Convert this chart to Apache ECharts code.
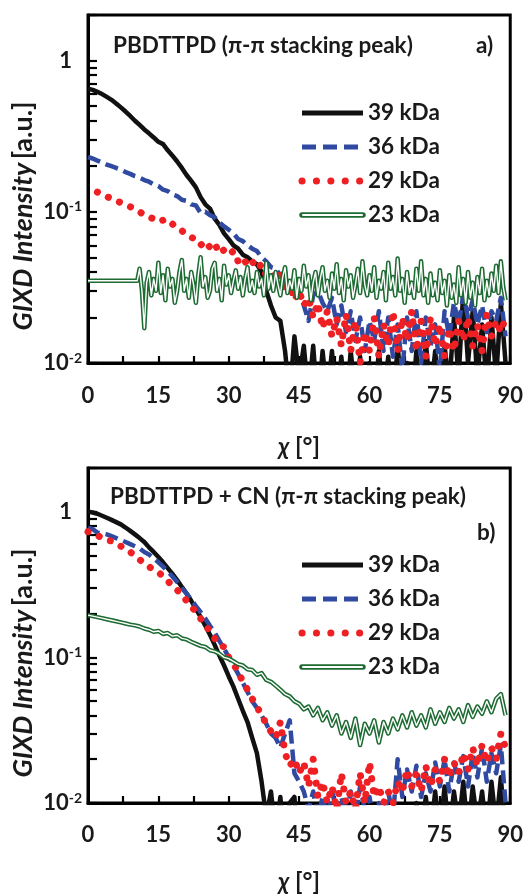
<!DOCTYPE html>
<html>
<head>
<meta charset="utf-8">
<script src="https://cdn.jsdelivr.net/npm/echarts@6/dist/echarts.min.js"></script>
<style>
html,body{margin:0;padding:0;background:#fff;}
#c{width:526px;height:895px;}
</style>
</head>
<body>
<div id="c"></div>
<script>
// chi angle [deg]
const chi = [0,1,2,3,4,5,6,7,8,9,10,11,12,13,14,15,16,17,18,19,20,21,22,23,24,25,26,27,28,29,30,31,32,33,34,35,36,37,38,39,40,41,42,43,44,45,46,47,48,49,50,51,52,53,54,55,56,57,58,59,60,61,62,63,64,65,66,67,68,69,70,71,72,73,74,75,76,77,78,79,80,81,82,83,84,85,86,87,88,89];
const chiHalf = [0,0.5,1,1.5,2,2.5,3,3.5,4,4.5,5,5.5,6,6.5,7,7.5,8,8.5,9,9.5,10,10.5,11,11.5,12,12.5,13,13.5,14,14.5,15,15.5,16,16.5,17,17.5,18,18.5,19,19.5,20,20.5,21,21.5,22,22.5,23,23.5,24,24.5,25,25.5,26,26.5,27,27.5,28,28.5,29,29.5,30,30.5,31,31.5,32,32.5,33,33.5,34,34.5,35,35.5,36,36.5,37,37.5,38,38.5,39,39.5,40,40.5,41,41.5,42,42.5,43,43.5,44,44.5,45,45.5,46,46.5,47,47.5,48,48.5,49,49.5,50,50.5,51,51.5,52,52.5,53,53.5,54,54.5,55,55.5,56,56.5,57,57.5,58,58.5,59,59.5,60,60.5,61,61.5,62,62.5,63,63.5,64,64.5,65,65.5,66,66.5,67,67.5,68,68.5,69,69.5,70,70.5,71,71.5,72,72.5,73,73.5,74,74.5,75,75.5,76,76.5,77,77.5,78,78.5,79,79.5,80,80.5,81,81.5,82,82.5,83,83.5,84,84.5,85,85.5,86,86.5,87,87.5,88,88.5,89];

// Panel a) PBDTTPD
const a39 = [0.65,0.64,0.62,0.60,0.575,0.55,0.52,0.49,0.46,0.43,0.40,0.375,0.35,0.33,0.31,0.29,0.28,0.255,0.235,0.215,0.195,0.175,0.16,0.145,0.125,0.112,0.105,0.09,0.082,0.072,0.066,0.06,0.057,0.052,0.05,0.047,0.045,0.04,0.03,0.024,0.02,0.019,0.012,0.006,0.015,0.008,0.013,0.006,0.013,0.005,0.012,0.006,0.012,0.005,0.011,0.005,0.012,0.006,0.011,0.005,0.01,0.005,0.012,0.006,0.011,0.005,0.013,0.006,0.01,0.005,0.012,0.006,0.014,0.006,0.012,0.005,0.013,0.007,0.02,0.008,0.03,0.01,0.022,0.008,0.018,0.007,0.02,0.008,0.025,0.01];
const a36 = [0.23,0.225,0.218,0.212,0.205,0.20,0.195,0.19,0.183,0.178,0.172,0.168,0.162,0.158,0.152,0.148,0.14,0.137,0.13,0.127,0.12,0.118,0.112,0.11,0.098,0.1,0.095,0.092,0.085,0.08,0.076,0.072,0.066,0.064,0.06,0.057,0.055,0.05,0.047,0.043,0.042,0.038,0.04,0.033,0.036,0.03,0.024,0.019,0.028,0.03,0.025,0.022,0.027,0.018,0.024,0.016,0.022,0.014,0.02,0.012,0.019,0.014,0.022,0.012,0.02,0.011,0.018,0.009,0.02,0.012,0.022,0.01,0.02,0.013,0.018,0.009,0.022,0.015,0.025,0.018,0.028,0.02,0.026,0.018,0.024,0.016,0.022,0.019,0.027,0.015];
const a29 = [null,null,0.135,0.13,0.126,0.122,0.118,0.115,0.112,0.108,0.104,0.1,0.095,0.092,0.09,0.086,0.088,0.082,0.083,0.078,0.075,0.07,0.068,0.065,0.06,0.064,0.058,0.062,0.053,0.056,0.052,0.055,0.047,0.05,0.044,0.047,0.042,0.045,0.038,0.04,0.035,0.038,0.03,0.034,0.026,0.03,0.024,0.027,0.02,0.025,0.017,0.022,0.015,0.02,0.013,0.021,0.012,0.019,0.01,0.016,0.012,0.02,0.011,0.018,0.013,0.022,0.012,0.02,0.014,0.022,0.012,0.019,0.011,0.02,0.013,0.018,0.011,0.017,0.012,0.019,0.014,0.02,0.013,0.018,0.012,0.021,0.015,0.019,0.016,0.02];
// 23 kDa sampled every 0.5 deg (uses chiHalf)
const a23 = [0.035,0.035,0.035,0.035,0.035,0.035,0.035,0.035,0.035,0.035,0.035,0.035,0.035,0.035,0.035,0.035,0.035,0.035,0.035,0.035,0.035,0.035,
  0.042,0.03,0.017,0.034,0.04,0.028,0.036,0.03,0.046,0.029,
  0.038,0.026,0.042,0.032,0.036,0.025,0.03,0.04,0.048,0.03,
  0.036,0.027,0.04,0.033,0.025,0.038,0.05,0.032,0.037,0.027,
  0.03,0.042,0.046,0.03,0.036,0.026,0.044,0.033,0.038,0.029,
  0.035,0.041,0.031,0.037,0.028,0.036,0.043,0.03,0.035,0.029,
  0.04,0.032,0.036,0.028,0.046,0.031,0.038,0.03,0.04,0.033,
  0.028,0.037,0.043,0.029,0.035,0.031,0.041,0.027,0.036,0.03,
  0.044,0.032,0.038,0.026,0.034,0.04,0.028,0.036,0.043,0.03,
  0.035,0.027,0.039,0.031,0.045,0.029,0.036,0.026,0.041,0.032,
  0.038,0.027,0.033,0.042,0.029,0.047,0.033,0.028,0.038,0.03,
  0.043,0.027,0.035,0.031,0.04,0.026,0.046,0.031,0.037,0.028,
  0.049,0.03,0.036,0.025,0.04,0.029,0.034,0.027,0.042,0.03,
  0.047,0.028,0.036,0.025,0.039,0.028,0.034,0.026,0.041,0.029,
  0.035,0.024,0.038,0.027,0.033,0.025,0.043,0.028,0.036,0.025,
  0.04,0.027,0.034,0.024,0.037,0.029,0.042,0.026,0.035,0.028,
  0.039,0.03,0.044,0.029,0.047,0.032,0.026];

// Panel b) PBDTTPD + CN
const b39 = [1.0,0.99,0.97,0.94,0.91,0.88,0.85,0.82,0.78,0.74,0.70,0.66,0.62,0.57,0.53,0.49,0.45,0.41,0.375,0.34,0.305,0.275,0.245,0.215,0.19,0.165,0.143,0.122,0.103,0.088,0.074,0.063,0.052,0.043,0.036,0.028,0.022,0.014,0.008,0.012,0.006,0.011,0.005,0.01,0.011,0.004,0.008,0.005,0.009,0.004,0.008,0.005,0.009,0.004,0.008,0.005,0.009,0.004,0.008,0.005,0.009,0.004,0.008,0.005,0.009,0.004,0.008,0.005,0.009,0.005,0.01,0.006,0.011,0.006,0.012,0.006,0.013,0.006,0.012,0.007,0.014,0.006,0.013,0.007,0.012,0.006,0.014,0.007,0.015,0.006];
const b36 = [0.78,0.76,0.72,0.71,0.70,0.68,0.66,0.64,0.62,0.6,0.58,0.56,0.53,0.51,0.48,0.45,0.42,0.39,0.36,0.33,0.3,0.275,0.25,0.225,0.205,0.185,0.165,0.148,0.13,0.115,0.1,0.088,0.077,0.067,0.058,0.05,0.045,0.04,0.035,0.03,0.028,0.024,0.03,0.037,0.016,0.014,0.012,0.009,0.012,0.008,0.011,0.008,0.012,0.009,0.011,0.008,0.012,0.008,0.013,0.009,0.011,0.007,0.01,0.007,0.012,0.008,0.02,0.011,0.017,0.012,0.018,0.011,0.016,0.012,0.019,0.013,0.02,0.012,0.019,0.014,0.021,0.013,0.022,0.015,0.024,0.014,0.022,0.016,0.025,0.01];
const b29 = [0.73,0.71,0.69,0.66,0.64,0.63,0.61,0.58,0.56,0.53,0.5,0.47,0.44,0.42,0.4,0.385,0.36,0.335,0.31,0.29,0.27,0.245,0.225,0.205,0.185,0.168,0.15,0.135,0.122,0.118,0.1,0.09,0.08,0.068,0.06,0.052,0.046,0.04,0.035,0.031,0.028,0.036,0.022,0.018,0.02,0.016,0.019,0.013,0.02,0.011,0.014,0.01,0.013,0.009,0.016,0.01,0.012,0.009,0.016,0.01,0.019,0.011,0.013,0.01,0.012,0.01,0.014,0.012,0.017,0.013,0.016,0.012,0.018,0.013,0.017,0.014,0.02,0.015,0.019,0.016,0.022,0.017,0.024,0.018,0.025,0.019,0.024,0.02,0.03,0.024];
const b23 = [0.195,0.192,0.189,0.186,0.183,0.18,0.177,0.174,0.171,0.168,0.166,0.163,0.158,0.155,0.15,0.152,0.145,0.147,0.14,0.142,0.135,0.133,0.128,0.124,0.12,0.118,0.112,0.11,0.106,0.1,0.098,0.094,0.09,0.088,0.083,0.082,0.076,0.078,0.07,0.068,0.064,0.06,0.056,0.054,0.05,0.048,0.044,0.046,0.04,0.045,0.037,0.042,0.034,0.04,0.03,0.036,0.028,0.038,0.025,0.035,0.03,0.037,0.026,0.036,0.03,0.038,0.032,0.04,0.033,0.042,0.034,0.04,0.033,0.044,0.035,0.042,0.036,0.045,0.038,0.044,0.036,0.047,0.039,0.046,0.041,0.05,0.042,0.052,0.056,0.04];

const seriesNames = ['39 kDa','36 kDa','29 kDa','23 kDa'];
const xTickLabels = [0,15,30,45,60,75,90];
const yLabelValues = [0.01,0.1,1];
const yMinorTicks = [0.01,0.02,0.03,0.04,0.05,0.06,0.07,0.08,0.09,0.1,0.2,0.3,0.4,0.5,0.6,0.7,0.8,0.9,1,2];

const FONT = 'Lato';
const TXT = '#1a1a1a';
const C39 = '#111111', C36 = '#2f4aa0', C29 = '#ee2024', C23 = '#1d6b32';

function pairs(xs, arr){ return xs.map((x,i)=>[x, arr[i]]); }

function yLabel(v){
  if (Math.abs(v-1)<1e-9) return '{one|1}';
  if (Math.abs(v-0.1)<1e-9) return '{n|10}{s|-1}';
  if (Math.abs(v-0.01)<1e-9) return '{n|10}{s|-2}';
  return '';
}

function makeX(gi, margin, gap){
  return {
    type:'value', gridIndex:gi, min:0, max:90, interval:7.5,
    axisLine:{show:true, onZero:false, lineStyle:{color:'#000', width:3}},
    axisTick:{show:true, inside:true, length:7, lineStyle:{color:'#000', width:2.2, type:[30,0.01], dashOffset:0, cap:'butt'}},
    axisLabel:{margin:margin, color:TXT, fontFamily:FONT, fontWeight:'bold', fontSize:22,
      formatter:function(v){ return xTickLabels.indexOf(v)>=0 ? String(v) : ''; }},
    splitLine:{show:false},
    name:'{i|χ} [°]', nameLocation:'middle', nameGap:gap,
    nameTextStyle:{color:TXT, fontFamily:FONT, fontWeight:'bold', fontSize:24,
      rich:{i:{fontStyle:'italic', fontFamily:FONT, fontWeight:'bold', fontSize:24, color:TXT}}}
  };
}
function makeY(gi){
  return {
    type:'log', logBase:10, gridIndex:gi, min:0.01, max:2,
    axisLine:{show:true, onZero:false, lineStyle:{color:'#000', width:3}},
    axisTick:{show:true, inside:true, length:9, lineStyle:{color:'#000', width:2.2, type:[30,0.01], dashOffset:0, cap:'butt'}, customValues:yMinorTicks},
    axisLabel:{margin:6, color:TXT, customValues:yLabelValues, formatter:yLabel,
      rich:{
        n:{fontFamily:FONT, fontWeight:'bold', fontSize:22, color:TXT},
        one:{fontFamily:FONT, fontWeight:'bold', fontSize:22, color:TXT, padding:[0,10,0,0]},
        s:{fontFamily:FONT, fontWeight:'bold', fontSize:14, color:TXT, padding:[0,0,10,0]}
      }},
    splitLine:{show:false}
  };
}
function makeSeries(gi, xs23, d39, d36, d29, d23){
  const base = {type:'line', xAxisIndex:gi, yAxisIndex:gi, showSymbol:false, symbol:'none', clip:true, silent:true, animation:false};
  return [
    Object.assign({}, base, {name:seriesNames[0], data:pairs(chi, d39), lineStyle:{color:C39, width:4.5, join:'round'}}),
    Object.assign({}, base, {name:seriesNames[1], data:pairs(chi, d36), lineStyle:{color:C36, width:4.5, type:[13,6], join:'round'}}),
    Object.assign({}, base, {name:seriesNames[2], data:pairs(chi, d29), lineStyle:{color:C29, width:7, type:[0.1,12], cap:'round', join:'round'}}),
    Object.assign({}, base, {name:seriesNames[3], data:pairs(xs23, d23), lineStyle:{color:C23, width:4.5, join:'round'}}),
    Object.assign({}, base, {name:seriesNames[3]+' inner', data:pairs(xs23, d23), lineStyle:{color:'#ffffff', width:1.4, join:'round'}})
  ];
}

function legendGraphics(top){
  const els = [];
  const x0 = 302, x1 = 363, tx = 368, dy = 34;
  const styles = [
    {stroke:C39, lineWidth:5, lineCap:'butt'},
    {stroke:C36, lineWidth:5, lineDash:[14,7], lineCap:'butt'},
    {stroke:C29, lineWidth:7, lineDash:[0.1,14.3], lineCap:'round'},
    {stroke:C23, lineWidth:5.5, lineCap:'round'}
  ];
  for (let i=0;i<4;i++){
    const y = top + i*dy;
    els.push({type:'line', z:100, shape:{x1:x0, y1:y, x2:x1, y2:y}, style:styles[i], silent:true});
    if (i===3) els.push({type:'line', z:101, shape:{x1:x0+1, y1:y, x2:x1-1, y2:y}, style:{stroke:'#fff', lineWidth:2, lineCap:'round'}, silent:true});
    els.push({type:'text', z:100, x:tx, y:y, style:{text:seriesNames[i], fill:TXT, font:'bold 22.5px '+FONT, verticalAlign:'middle'}, silent:true});
  }
  return els;
}
function yName(cx, cy){
  return {type:'text', z:100, x:cx, y:cy, rotation:Math.PI/2, silent:true,
    style:{text:'{i|GIXD Intensity} {n|[a.u.]}', align:'center', verticalAlign:'middle',
      rich:{
        i:{fontFamily:FONT, fontStyle:'italic', fontWeight:'bold', fontSize:27, fill:TXT},
        n:{fontFamily:FONT, fontWeight:'bold', fontSize:27, fill:TXT}
      }}};
}

const chart = echarts.init(document.getElementById('c'), null, {renderer:'canvas'});
const TS = {color:TXT, fontFamily:FONT, fontWeight:'bold', fontSize:22.5};
const option = {
  animation:false,
  backgroundColor:'#fff',
  title:[
    {text:'PBDTTPD (π-π stacking peak)', left:108, top:29, textStyle:TS},
    {text:'a)', left:471, top:29, textStyle:TS},
    {text:'PBDTTPD + CN (π-π stacking peak)', left:105, top:480, textStyle:TS},
    {text:'b)', left:472, top:516, textStyle:TS}
  ],
  grid:[
    {left:88, top:15, width:424, height:348, show:true, borderColor:'#000', borderWidth:3, backgroundColor:'transparent'},
    {left:88, top:468, width:424, height:347, show:true, borderColor:'#000', borderWidth:3, backgroundColor:'transparent'}
  ],
  xAxis:[makeX(0, 22, 72), makeX(1, 21, 67)],
  yAxis:[makeY(0), makeY(1)],
  series: makeSeries(0, chiHalf, a39, a36, a29, a23).concat(makeSeries(1, chi, b39, b36, b29, b23)),
  graphic: legendGraphics(113).concat(legendGraphics(565)).concat([yName(23, 216), yName(23, 663)])
};
chart.setOption(option);
</script>
</body>
</html>
